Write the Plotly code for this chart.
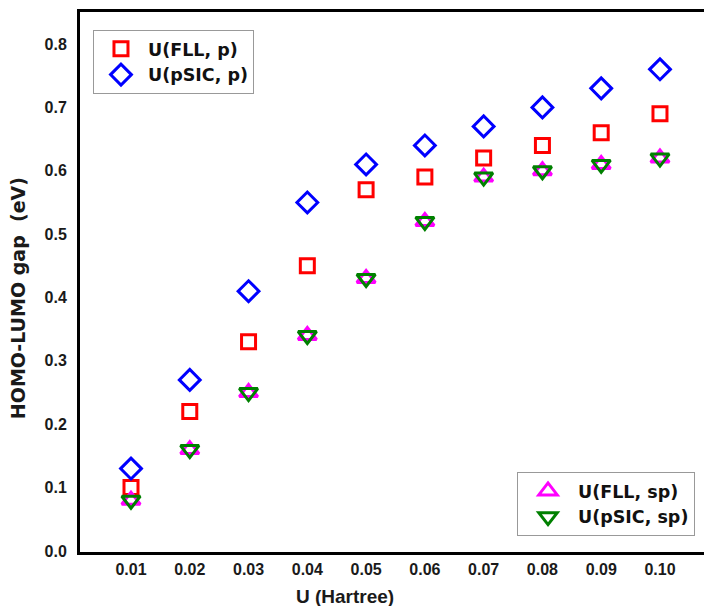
import plotly.graph_objects as go

u_vals = [0.01, 0.02, 0.03, 0.04, 0.05, 0.06, 0.07, 0.08, 0.09, 0.10]
x_tick_labels = ["0.01", "0.02", "0.03", "0.04", "0.05", "0.06", "0.07", "0.08", "0.09", "0.10"]
y_tick_vals = [0.0, 0.1, 0.2, 0.3, 0.4, 0.5, 0.6, 0.7, 0.8]

fll_p = [0.10, 0.22, 0.33, 0.45, 0.57, 0.59, 0.62, 0.64, 0.66, 0.69]
psic_p = [0.13, 0.27, 0.41, 0.55, 0.61, 0.64, 0.67, 0.70, 0.73, 0.76]
fll_sp = [0.08, 0.16, 0.25, 0.34, 0.43, 0.52, 0.59, 0.60, 0.61, 0.62]
psic_sp = [0.08, 0.16, 0.25, 0.34, 0.43, 0.52, 0.59, 0.60, 0.61, 0.62]

fig = go.Figure()
fig.add_trace(go.Scatter(x=u_vals, y=fll_p, mode="markers", name="U(FLL, p)",
                         marker=dict(symbol="square-open", size=14, color="#ff0000",
                                     line=dict(width=3, color="#ff0000")),
                         legend="legend"))
fig.add_trace(go.Scatter(x=u_vals, y=psic_p, mode="markers", name="U(pSIC, p)",
                         marker=dict(symbol="diamond-open", size=16, color="#0000ff",
                                     line=dict(width=3, color="#0000ff")),
                         legend="legend"))
fig.add_trace(go.Scatter(x=u_vals, y=fll_sp, mode="markers", name="U(FLL, sp)",
                         marker=dict(symbol="triangle-up-open", size=16, color="#ff00ff",
                                     line=dict(width=3, color="#ff00ff")),
                         legend="legend2"))
fig.add_trace(go.Scatter(x=u_vals, y=psic_sp, mode="markers", name="U(pSIC, sp)",
                         marker=dict(symbol="triangle-down-open", size=16, color="#008000",
                                     line=dict(width=3, color="#008000")),
                         legend="legend2"))

tick_font = dict(family="Liberation Sans, Arial", size=16, color="#1a1a1a", weight="bold")
leg_font = dict(family="DejaVu Sans", size=17.5, color="#111", weight="bold")

fig.update_layout(
    width=704, height=606,
    margin=dict(l=80, r=0, t=12, b=54),
    paper_bgcolor="white", plot_bgcolor="white",
    showlegend=True,
    xaxis=dict(range=[0.001323, 0.10749], tickvals=u_vals, ticktext=x_tick_labels,
               showgrid=False, zeroline=False, showline=True, linecolor="black",
               linewidth=3, mirror=True, ticks="", tickfont=tick_font,
               ticklabelstandoff=1),
    yaxis=dict(range=[-0.0016, 0.8505], tickvals=y_tick_vals, tickformat=".1f",
               showgrid=False, zeroline=False, showline=True, linecolor="black",
               linewidth=3, mirror=False, ticks="", tickfont=tick_font,
               ticklabelstandoff=7),
    legend=dict(x=0.0208, y=0.9667, xanchor="left", yanchor="top",
                bgcolor="white", bordercolor="#999", borderwidth=1,
                font=leg_font, itemwidth=44),
    legend2=dict(x=0.9856, y=0.0296, xanchor="right", yanchor="bottom",
                 bgcolor="white", bordercolor="#999", borderwidth=1,
                 font=leg_font, itemwidth=50),
    annotations=[
        dict(text="U (Hartree)", xref="paper", yref="paper", x=0.4247, y=-0.0815,
             xanchor="center", yanchor="middle", showarrow=False,
             font=dict(family="Liberation Sans, Arial", size=19, color="#1a1a1a",
                       weight="bold")),
        dict(text="HOMO-LUMO gap\u00a0 (eV)", xref="paper", yref="paper",
             x=-0.0994, y=0.47, xanchor="center", yanchor="middle",
             textangle=-90, showarrow=False,
             font=dict(family="DejaVu Sans", size=19, color="#1a1a1a",
                       weight="bold")),
    ],
)

fig.write_html("out.html")
